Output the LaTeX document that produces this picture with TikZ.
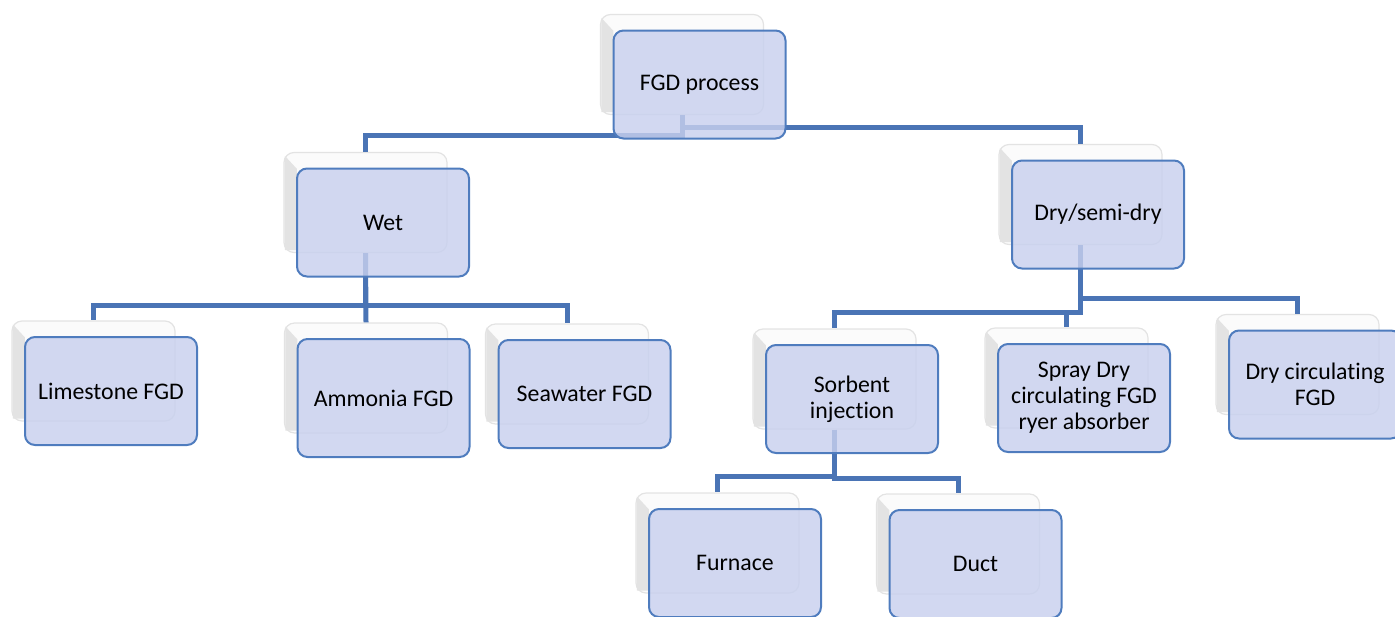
\documentclass[tikz,border=0pt]{standalone}
\usepackage{fontspec}
\setmainfont{Carlito}[Ligatures=NoCommon]
\usetikzlibrary{calc}
\definecolor{boxfill}{RGB}{200,208,238}
\definecolor{boxline}{RGB}{79,124,190}
\definecolor{linkblue}{RGB}{74,116,181}
\tikzset{
  backbox/.style={draw=gray!22, fill=gray!3, line width=0.6pt, rounded corners=5pt,
    minimum width=81.5pt, minimum height=50pt, inner sep=0pt},
  bevel/.style={fill=gray!22},
  frontbox/.style={draw=boxline, line width=1pt, fill=boxfill, fill opacity=0.82,
    text opacity=1, rounded corners=5pt, minimum width=86pt, minimum height=54pt,
    align=center, inner sep=2pt, font=\fontsize{11.9}{13}\selectfont},
  link/.style={draw=linkblue, line width=2.5pt},
}
\begin{document}
\begin{tikzpicture}[x=0.5pt,y=-0.5pt]
  \useasboundingbox (0,0) rectangle (1395,616);

  % back boxes
  \node[backbox] (fgdb) at (682,64.5) {};
  \node[backbox] (wetb) at (365.5,202.5) {};
  \node[backbox] (dryb) at (1080.5,194.5) {};
  \node[backbox] (limeb) at (93.5,371) {};
  \node[backbox,minimum height=55pt] (ammb) at (366,378) {};
  \node[backbox] (seab) at (567,374) {};
  \node[backbox] (sorbb) at (834.5,379) {};
  \node[backbox] (sprayb) at (1066.5,378) {};
  \node[backbox] (dcircb) at (1297.5,364.5) {};
  \node[backbox] (furnb) at (717.5,543) {};
  \node[backbox] (ductb) at (958,544) {};

  % left bevels of the back boxes
  \foreach \b in {fgdb,wetb,dryb,limeb,ammb,seab,sorbb,sprayb,dcircb,furnb,ductb}
    \fill[bevel] ($(\b.north west)+(1.5,4)$) -- ++(12,13)
      -- ($(\b.south west)+(13.5,-3)$) -- ($(\b.south west)+(1.5,-3)$) -- cycle;

  % bus levels
  \coordinate (fgdbusL) at (0,135);
  \coordinate (fgdbusR) at (0,127);
  \coordinate (wetbus) at (0,305);
  \coordinate (drybusL) at (0,312);
  \coordinate (drybusR) at (0,298);
  \coordinate (sorbbusL) at (0,476);
  \coordinate (sorbbusR) at (0,478);

  % connectors
  \draw[link] (fgdb.south) -- (fgdb.south |- fgdbusL) -| (wetb.north);
  \draw[link] (fgdb.south) -- (fgdb.south |- fgdbusR) -| (dryb.north);
  \draw[link] (wetb.south) -- (wetb.south |- wetbus) -| (limeb.north);
  \draw[link] (wetb.south) -- (ammb.north);
  \draw[link] (wetb.south) -- (wetb.south |- wetbus) -| (seab.north);
  \draw[link] (dryb.south) -- (dryb.south |- drybusL) -| (sorbb.north);
  \draw[link] (dryb.south |- drybusL) -| (sprayb.north);
  \draw[link] (dryb.south) -- (dryb.south |- drybusR) -| (dcircb.north);
  \draw[link] (sorbb.south) -- (sorbb.south |- sorbbusL) -| (furnb.north);
  \draw[link] (sorbb.south) -- (sorbb.south |- sorbbusR) -| (ductb.north);

  % front boxes
  \node[frontbox] (fgd) at ($(fgdb)+(17.5,20)$) {FGD process};
  \node[frontbox] (wet) at ($(wetb)+(17.5,20)$) {Wet};
  \node[frontbox] (dry) at ($(dryb)+(17.5,20)$) {Dry/semi-dry};
  \node[frontbox] (lime) at ($(limeb)+(17.5,20)$) {Limestone FGD};
  \node[frontbox,minimum height=59pt] (amm) at ($(ammb)+(17.5,20)$) {Ammonia FGD};
  \node[frontbox] (sea) at ($(seab)+(17.5,20)$) {Seawater FGD};
  \node[frontbox] (sorb) at ($(sorbb)+(17.5,20)$) {Sorbent\\injection};
  \node[frontbox] (spray) at ($(sprayb)+(17.5,20)$) {Spray Dry\\circulating FGD\\ryer absorber};
  \node[frontbox] (dcirc) at ($(dcircb)+(17.5,20)$) {Dry circulating\\FGD};
  \node[frontbox] (furn) at ($(furnb)+(17.5,20)$) {Furnace};
  \node[frontbox] (duct) at ($(ductb)+(17.5,20)$) {Duct};
\end{tikzpicture}
\end{document}
